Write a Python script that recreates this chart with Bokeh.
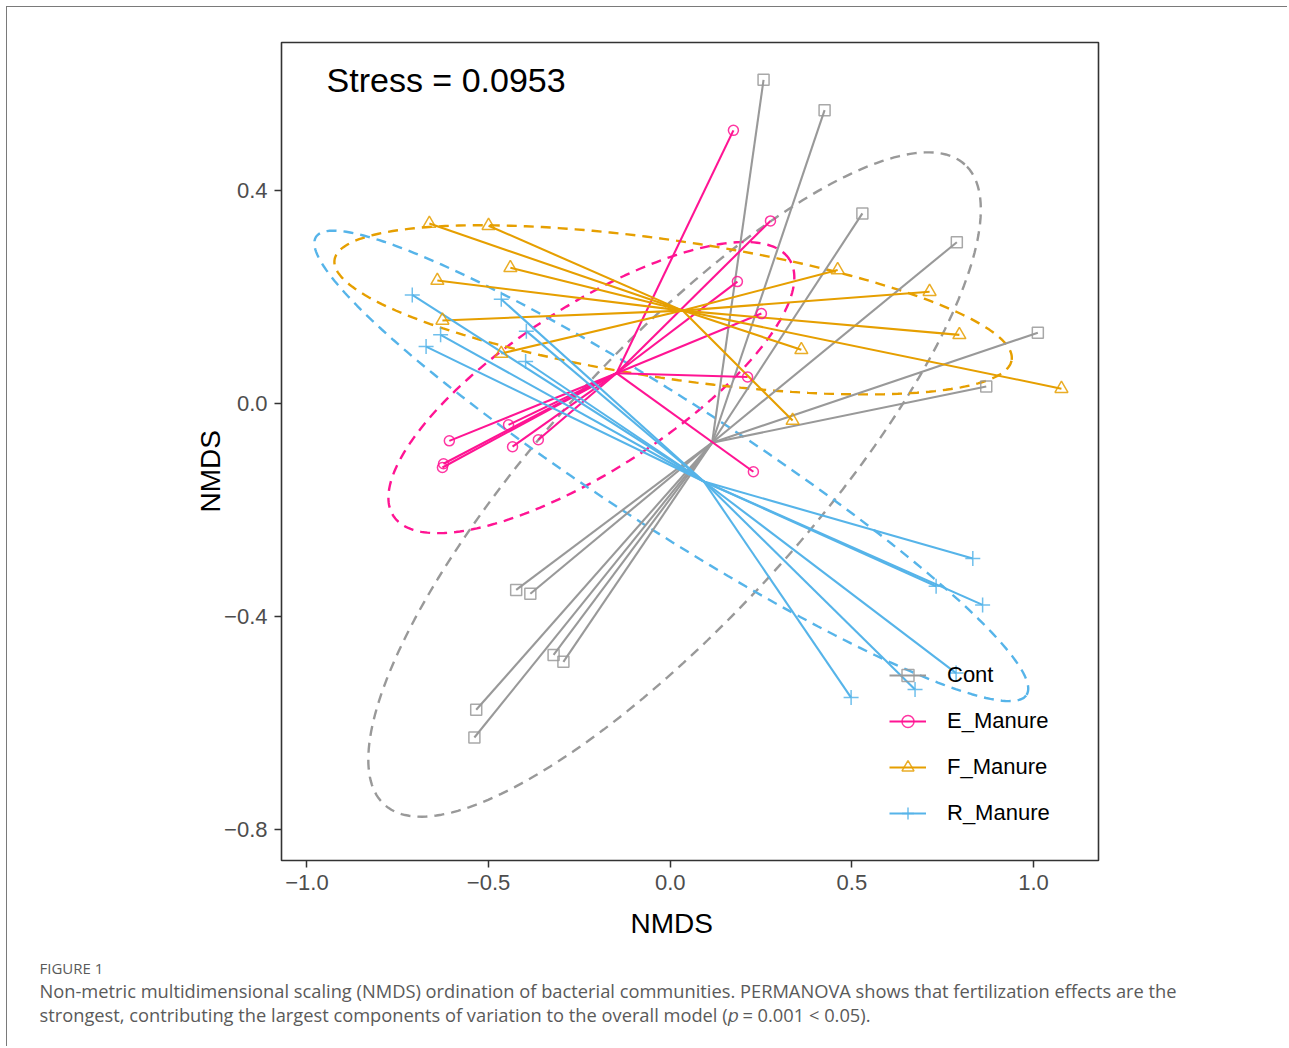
import numpy as np
from bokeh.plotting import figure
from bokeh.models import Label, Legend, LegendItem, FixedTicker, Title, Range1d
from bokeh.embed import file_html
from bokeh.resources import INLINE

# ---------------- data ----------------
groups = ["Cont", "E_Manure", "F_Manure", "R_Manure"]
colors = ["#999999", "#FF1493", "#E69F00", "#56B4E9"]
markers = ["square", "circle", "triangle", "cross"]

cont_x = [0.257, 0.425, 0.529, 0.789, 1.012, 0.870, -0.424, -0.385, -0.321, -0.294, -0.534, -0.539]
cont_y = [0.607, 0.550, 0.356, 0.302, 0.132, 0.031, -0.351, -0.358, -0.473, -0.486, -0.576, -0.628]

e_x = [0.174, 0.276, 0.185, 0.251, 0.213, 0.229, -0.608, -0.445, -0.434, -0.363, -0.624, -0.627]
e_y = [0.512, 0.342, 0.228, 0.168, 0.049, -0.129, -0.071, -0.041, -0.082, -0.069, -0.114, -0.121]

f_x = [-0.663, -0.500, -0.440, -0.641, -0.627, -0.465, 0.461, 0.714, 0.796, 0.361, 1.077, 0.337]
f_y = [0.337, 0.333, 0.254, 0.230, 0.155, 0.093, 0.250, 0.209, 0.128, 0.100, 0.027, -0.033]

r_x = [-0.710, -0.465, -0.396, -0.632, -0.672, -0.398, 0.833, 0.732, 0.860, 0.498, 0.674, 0.787]
r_y = [0.203, 0.195, 0.135, 0.128, 0.106, 0.078, -0.292, -0.344, -0.379, -0.553, -0.538, -0.507]

xs_all = [cont_x, e_x, f_x, r_x]
ys_all = [cont_y, e_y, f_y, r_y]

# ellipse parameters (centre and two conjugate semi-diameters, data units)
ell_cx = [0.012, -0.217, 0.008, 0.003]
ell_cy = [-0.153, 0.029, 0.175, -0.118]
ell_ux = [0.799, 0.545, 0.932, 0.978]
ell_uy = [0.601, 0.241, -0.094, -0.430]
ell_vx = [-0.269, -0.123, 0.028, 0.095]
ell_vy = [0.167, 0.129, 0.128, 0.101]

stress_text = "Stress = 0.0953"
axis_title = "NMDS"
x_ticks = [-1.0, -0.5, 0.0, 0.5, 1.0]
x_tick_labels = ["\u22121.0", "\u22120.5", "0.0", "0.5", "1.0"]
y_ticks = [-0.8, -0.4, 0.0, 0.4]
y_tick_labels = ["\u22120.8", "\u22120.4", "0.0", "0.4"]

caption_head = "FIGURE 1"
caption_1 = ("Non-metric multidimensional scaling (NMDS) ordination of bacterial communities. "
             "PERMANOVA shows that fertilization effects are the")
caption_2 = ("strongest, contributing the largest components of variation to the overall model "
             "(\U0001D45D = 0.001 < 0.05).")

# ---------------- figure ----------------
FONT = "Liberation Sans"
p = figure(width=1281, height=1040, output_backend="svg", toolbar_location=None,
           x_range=Range1d(-1.070, 1.179), y_range=Range1d(-0.859, 0.677),
           min_border_left=274, min_border_right=190, min_border_top=35, min_border_bottom=187)
p.styles = {"margin-left": "6px", "margin-top": "6px",
            "border-left": "1px solid #7a7a7a", "border-top": "1px solid #7a7a7a"}
p.background_fill_color = "white"
p.border_fill_color = "white"
p.outline_line_color = "#333333"
p.outline_line_width = 1.6
p.xgrid.visible = False
p.ygrid.visible = False

for ax, ticks, labels in ((p.xaxis[0], x_ticks, x_tick_labels), (p.yaxis[0], y_ticks, y_tick_labels)):
    ax.ticker = FixedTicker(ticks=ticks)
    ax.major_label_overrides = {t: l for t, l in zip(ticks, labels)}
    ax.minor_tick_line_color = None
    ax.major_tick_in = 0
    ax.major_tick_out = 7
    ax.major_tick_line_color = "#333333"
    ax.major_tick_line_width = 1.5
    ax.axis_line_color = None
    ax.major_label_text_font = FONT
    ax.major_label_text_font_size = "22px"
    ax.major_label_text_color = "#4D4D4D"
    ax.major_label_standoff = 7

# axis titles (placed as titles so they can be offset like the original)
p.add_layout(Title(text=axis_title, align="left", offset=349, text_font=FONT, text_font_size="28px",
                   text_font_style="normal", text_color="black", standoff=26), "below")
p.add_layout(Title(text=axis_title, align="left", offset=348, text_font=FONT, text_font_size="28px",
                   text_font_style="normal", text_color="black", standoff=-8), "left")

# ellipses
t = np.linspace(0, 2 * np.pi, 240)
for i, c in enumerate(colors):
    ex = ell_cx[i] + ell_ux[i] * np.cos(t) + ell_vx[i] * np.sin(t)
    ey = ell_cy[i] + ell_uy[i] * np.cos(t) + ell_vy[i] * np.sin(t)
    p.line(ex, ey, line_color=c, line_width=2.4, line_dash="10 7")

# spiders
seg_r = []
for i, c in enumerate(colors):
    gx, gy = np.array(xs_all[i]), np.array(ys_all[i])
    cx, cy = gx.mean(), gy.mean()
    r = p.segment(x0=[cx] * len(gx), y0=[cy] * len(gy), x1=gx, y1=gy, line_color=c, line_width=2.1)
    seg_r.append(r)

# points
pt_r = []
sizes = [11, 10, 13, 15]
for i, c in enumerate(colors):
    r = p.scatter(xs_all[i], ys_all[i], marker=markers[i], size=sizes[i], fill_color=None,
                  line_color=c, line_width=1.5, line_alpha=0.85)
    pt_r.append(r)

legend = Legend(items=[LegendItem(label=g, renderers=[seg_r[i], pt_r[i]]) for i, g in enumerate(groups)],
                location=(608, 32), orientation="vertical")
legend.background_fill_alpha = 0
legend.border_line_alpha = 0
legend.padding = 0
legend.margin = 0
legend.glyph_width = 37
legend.glyph_height = 30
legend.label_height = 30
legend.spacing = 16
legend.label_standoff = 21
legend.label_text_font = FONT
legend.label_text_font_size = "22px"
legend.label_text_color = "black"
p.add_layout(legend)

p.add_layout(Label(x=-0.946, y=0.607, text=stress_text, text_font=FONT, text_font_size="34px",
                   text_baseline="middle", text_align="left", text_color="black"))

cap_font = "Open Sans"
t1 = Title(text=caption_head, align="left", offset=-242, text_font=cap_font, text_font_size="15px",
           text_color="#5a5a5a", text_font_style="normal", standoff=8)
t2 = Title(text=caption_1, align="left", offset=-242, text_font=cap_font, text_font_size="18.3px",
           text_color="#5a5a5a", text_font_style="normal", standoff=-11)
t3 = Title(text=caption_2, align="left", offset=-242, text_font=cap_font, text_font_size="18.3px",
           text_color="#5a5a5a", text_font_style="normal", standoff=5)
p.add_layout(t1, "below")
p.add_layout(t2, "below")
p.add_layout(t3, "below")

open("out.html", "w").write(file_html(p, INLINE))
